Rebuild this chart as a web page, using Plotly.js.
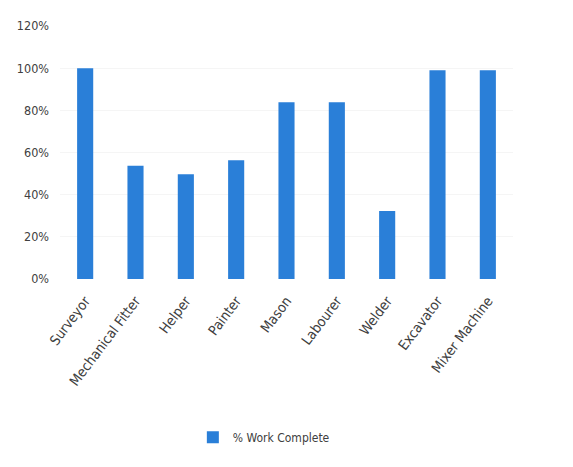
<!DOCTYPE html>
<html><head><meta charset="utf-8">
<script src="https://cdn.plot.ly/plotly-3.0.1.min.js"></script>
<style>body{margin:0;background:#fff}#c{width:573px;height:467px}</style>
</head><body><div id="c"></div>
<script>
const categories = ["Surveyor","Mechanical Fitter","Helper","Painter","Mason","Labourer","Welder","Excavator","Mixer Machine"];
const workComplete = [1.00, 0.537, 0.497, 0.563, 0.838, 0.838, 0.322, 0.99, 0.99];
const yTicks = [0, 0.2, 0.4, 0.6, 0.8, 1.0, 1.2];
const yTickLabels = ["0%","20%","40%","60%","80%","100%","120%"];
const seriesName = "% Work Complete";

Plotly.newPlot("c", [{
  type: "bar", x: categories, y: workComplete, name: seriesName,
  marker: {color: "#2a7fd8"}, width: 0.32
}], {
  width: 573, height: 467,
  margin: {l: 60, r: 60, t: 26, b: 188},
  paper_bgcolor: "#fff", plot_bgcolor: "#fff",
  font: {family: "DejaVu Sans Condensed, Liberation Sans, sans-serif", color: "#404040", size: 13},
  showlegend: true,
  legend: {orientation: "h", x: 0.45, xanchor: "center", y: -0.625, yanchor: "middle", font: {size: 12}},
  xaxis: {tickangle: -53, showline: false, ticks: "", showgrid: false, ticklabelstandoff: 10, tickfont: {size: 14}},
  yaxis: {range: [0, 1.2], tickvals: yTicks, ticktext: yTickLabels, showgrid: true, gridcolor: "#f5f5f5", zeroline: false, showline: false, ticks: "", ticklabelstandoff: 10, tickfont: {size: 12.5}}
}, {displayModeBar: false, staticPlot: true});
</script></body></html>
